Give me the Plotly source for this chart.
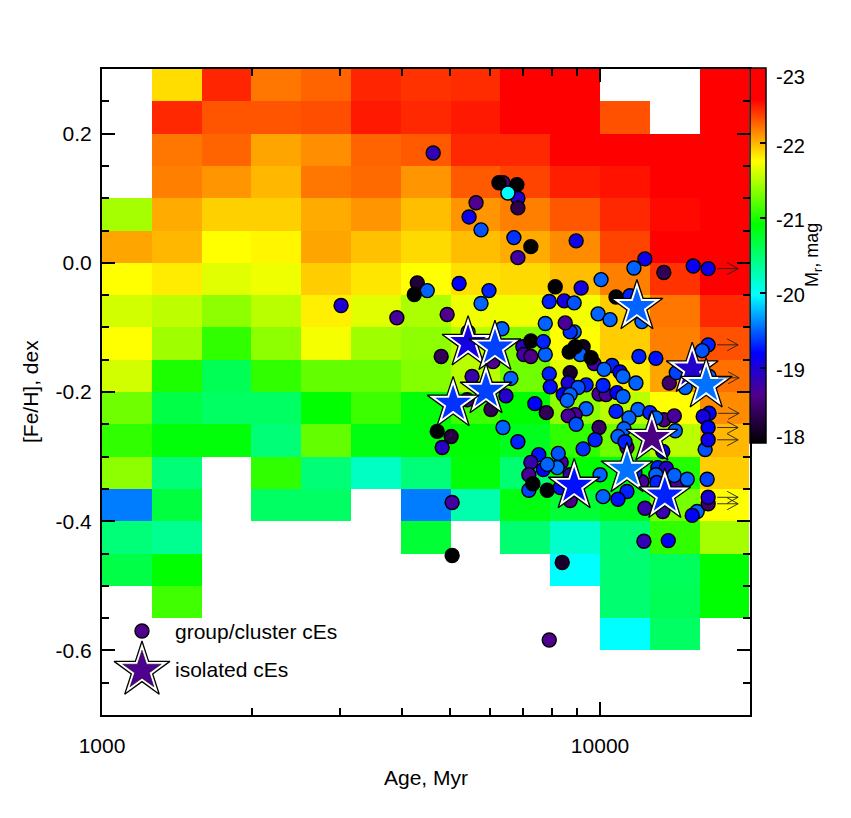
import numpy as np
import plotly.graph_objects as go

N = None
# Model grid: M_r per bin; rows run from [Fe/H]=+0.30 downward, columns from log Age=3.0
mr_grid = [
 [N,-21.87,-22.46,-22.20,-22.26,-22.46,-22.42,-22.44,-22.70,-22.70,N,N,-23.0],
 [N,-22.45,-22.31,-22.31,-22.33,-22.50,-22.45,-22.50,-22.70,-22.70,-22.32,N,-23.0],
 [N,-22.20,-22.26,-22.05,-22.12,-22.26,-22.29,-22.45,-22.45,-22.65,-22.65,-22.70,-23.0],
 [N,-22.17,-22.10,-21.99,-22.20,-22.24,-22.10,-22.29,-22.36,-22.48,-22.52,-22.80,-23.0],
 [-21.46,-22.03,-21.91,-21.91,-22.03,-22.10,-21.97,-22.10,-22.17,-22.30,-22.45,-22.55,-23.0],
 [-22.05,-21.99,-21.76,-21.79,-22.05,-21.96,-21.88,-21.97,-22.03,-22.13,-22.36,-22.60,-23.0],
 [-21.76,-21.82,-21.66,-21.71,-21.92,-21.84,-21.76,-21.86,-21.88,-21.97,-22.17,-22.42,-22.90],
 [-21.61,-21.54,-21.38,-21.53,-21.81,-21.66,-21.48,-21.71,-21.71,-21.72,-21.92,-22.20,-22.45],
 [-21.76,-21.44,-21.07,-21.38,-21.73,-21.44,-21.38,-21.53,-21.34,-21.76,-21.92,-22.17,-22.32],
 [-21.61,-21.00,-20.60,-21.07,-21.24,-21.24,-21.35,-21.53,-21.28,-21.66,-21.82,-22.05,-22.22],
 [-21.28,-20.65,-20.55,-20.55,-20.91,-21.11,-20.88,-21.11,-20.91,-21.38,-21.53,-21.76,-22.13],
 [-21.07,-20.88,-20.88,-20.48,-21.24,-20.85,-20.88,-20.90,-20.80,-21.07,-21.28,-21.53,-21.99],
 [-21.38,-20.48,N,-21.07,-20.48,-20.20,-20.47,-20.88,-20.50,-20.91,-20.85,-21.02,-21.92],
 [-19.58,-20.68,N,-20.55,-20.55,N,-19.58,-20.28,-20.85,-20.72,-20.80,-21.30,-21.76],
 [-20.47,-20.38,N,N,N,N,-20.72,N,-20.50,-20.17,-20.50,-21.07,-21.46],
 [-20.65,-20.91,N,N,N,N,N,N,N,-19.98,-20.50,-20.58,-20.91],
 [N,-21.12,N,N,N,N,N,N,N,N,-20.50,-20.60,-20.90],
 [N,N,N,N,N,N,N,N,N,N,-19.98,-20.55,N],
]
log_age_edges = [3.0+0.1*k for k in range(14)]
feh_edges = [0.30-0.05*k for k in range(19)]

# group/cluster cEs
log_age = [3.665,3.805,3.797,3.833,3.835,3.835,3.815,3.751,3.737,3.761,3.827,3.861,3.835,3.952,3.633,3.653,3.627,3.717,3.777,3.761,
 3.693,3.592,3.480,3.910,3.962,3.898,3.928,3.948,3.996,3.890,3.948,3.940,3.930,3.735,3.803,3.845,3.847,3.861,3.890,
 3.861,3.886,3.681,3.785,3.898,3.900,3.940,3.936,3.972,3.956,3.926,3.940,3.934,3.972,3.950,3.936,3.952,3.998,3.990,3.966,
 3.892,3.869,3.821,3.811,3.781,3.743,3.733,3.701,3.683,3.673,3.805,3.835,3.922,3.877,3.916,3.861,3.886,3.914,3.894,3.857,
 3.857,3.865,3.894,3.920,3.940,3.940,4.000,3.703,3.703,3.924,3.898,3.998,4.012,3.988,3.966,3.960,3.950,3.938,3.982,
 4.024,4.008,4.040,4.046,4.006,4.034,4.046,4.032,4.076,4.058,4.048,4.036,4.054,4.050,4.072,4.078,4.112,4.002,4.090,4.068,
 4.128,4.187,4.217,4.032,4.060,4.020,4.084,4.139,4.153,4.171,4.219,4.217,4.205,4.100,4.128,4.112,4.149,4.151,4.219,4.207,
 4.217,4.211,4.217,4.126,4.116,4.133,4.112,4.155,4.149,4.114,4.175,4.215,4.084,4.070,4.054,4.006,4.036,4.090,4.126,4.195,
 4.185,4.217,4.217,4.088,4.137]
feh = [.170,.124,.124,.121,.100,.085,.108,.093,.071,.051,.039,.025,.008,.034,-.031,-.043,-.049,-.032,-.043,-.063,
 -.080,-.085,-.066,-.037,-.039,-.060,-.059,-.062,-.079,-.094,-.107,-.107,-.093,-.107,-.102,-.130,-.142,-.145,-.142,
 -.121,-.122,-.145,-.153,-.172,-.192,-.170,-.186,-.189,-.193,-.204,-.204,-.213,-.226,-.235,-.237,-.250,-.255,-.274,-.288,
 -.232,-.218,-.179,-.206,-.227,-.176,-.212,-.269,-.286,-.261,-.255,-.277,-.309,-.297,-.295,-.309,-.320,-.317,-.312,-.328,
 -.352,-.342,-.352,-.348,-.328,-.368,-.328,-.371,-.453,-.464,-.584,-.203,-.204,-.156,-.130,-.142,-.130,-.138,-.147,
 -.159,-.165,-.169,-.176,-.190,-.201,-.207,-.230,-.227,-.240,-.257,-.269,-.286,-.277,-.186,-.145,-.148,-.026,.006,-.008,
 -.015,-.005,-.009,-.053,-.051,-.088,-.091,-.186,-.170,-.193,-.176,-.127,-.136,-.232,-.243,-.240,-.237,-.260,-.233,-.238,
 -.255,-.289,-.274,-.292,-.317,-.318,-.328,-.340,-.329,-.340,-.335,-.335,-.339,-.325,-.354,-.362,-.366,-.380,-.385,-.385,
 -.391,-.373,-.363,-.431,-.430]
mr = [-18.85,-18.6,-18.0,-18.0,-18.95,-18.35,-20.0,-18.65,-19.1,-19.45,-19.35,-18.0,-18.75,-19.1,-18.25,-19.5,-18.0,-19.2,-19.3,-19.5,
 -18.65,-18.7,-19.0,-18.0,-19.05,-19.3,-19.05,-19.45,-19.5,-19.5,-19.5,-19.35,-18.7,-19.5,-19.5,-18.9,-18.75,-18.6,-19.5,
 -18.0,-19.3,-18.4,-18.65,-19.3,-19.25,-18.2,-19.0,-19.3,-19.45,-19.2,-19.5,-19.5,-19.5,-18.7,-18.7,-19.45,-18.45,-19.3,-19.35,
 -18.4,-19.2,-19.5,-18.95,-18.4,-18.8,-18.7,-18.3,-18.9,-18.0,-19.5,-19.3,-18.7,-19.25,-19.45,-18.8,-19.2,-19.55,-19.5,-18.7,
 -19.4,-18.0,-18.0,-19.25,-18.8,-18.6,-19.5,-18.75,-18.0,-18.2,-18.65,-18.7,-18.7,-18.75,-18.15,-19.5,-18.0,-18.0,-18.0,
 -19.3,-19.5,-19.2,-19.5,-19.3,-19.2,-19.5,-19.3,-19.5,-19.5,-19.5,-19.5,-18.7,-19.3,-19.5,-19.3,-19.25,-19.5,-19.1,-19.5,
 -18.4,-19.15,-19.1,-18.0,-19.3,-19.5,-19.5,-18.5,-19.4,-19.5,-19.5,-19.3,-19.45,-19.3,-18.6,-19.5,-18.7,-19.5,-19.2,-19.05,
 -19.2,-19.45,-19.1,-19.2,-19.3,-18.95,-19.5,-18.7,-19.5,-19.3,-19.5,-19.4,-18.7,-19.3,-19.3,-19.5,-19.25,-18.8,-18.8,-19.5,
 -19.2,-18.5,-19.0,-18.85,-19.2]

# isolated cEs
iso_log_age = [3.735,3.789,3.771,3.705,3.948,4.054,4.074,4.104,4.130,4.185,4.213]
iso_feh = [-.124,-.131,-.198,-.218,-.345,-.320,-.068,-.271,-.360,-.165,-.189]
iso_mr = [-19.05,-19.4,-19.4,-19.35,-19.25,-19.55,-19.5,-18.6,-19.3,-18.95,-19.55]

# lower limits on age
lim_log_age = [4.217,4.217,4.219,4.219,4.217,4.217,4.217,4.217]
lim_feh = [-.009,-.127,-.178,-.233,-.255,-.274,-.363,-.373]

# colour bar labels and the heights (in page pixels) they sit at
cb_labels = ["-23","-22","-21","-20","-19","-18"]
cb_label_px = [77,146,220,295,370,437]

age = 10**np.array(log_age)
iso_age = 10**np.array(iso_log_age)
age_edges = 10**np.array(log_age_edges)
z = [[None if v is None else -v for v in row] for row in mr_grid]

FONT = "Liberation Sans"
cscale = [[0,"rgb(0,0,0)"],[.128,"rgb(80,0,140)"],[.24,"rgb(0,0,255)"],[.396,"rgb(0,255,255)"],
          [.582,"rgb(0,255,0)"],[.752,"rgb(255,255,0)"],[.916,"rgb(255,0,0)"],[1,"rgb(255,0,0)"]]

fig = go.Figure()
fig.add_trace(go.Heatmap(x=age_edges, y=feh_edges, z=z, coloraxis="coloraxis", hoverongaps=False, zsmooth=False))
fig.add_trace(go.Scatter(x=age, y=feh, mode="markers", showlegend=False,
    marker=dict(symbol="circle", size=14, color=[-v for v in mr], coloraxis="coloraxis",
                line=dict(color="black", width=1.4))))

def stars(x, y, m, big=39, small=27, inner_line=0):
    fig.add_trace(go.Scatter(x=x, y=y, mode="markers", showlegend=False,
        marker=dict(symbol="star", size=big, color="white", line=dict(color="black", width=1.3))))
    fig.add_trace(go.Scatter(x=x, y=y, mode="markers", showlegend=False,
        marker=dict(symbol="star", size=small, color=[-v for v in m], coloraxis="coloraxis",
                    line=dict(color="black", width=inner_line))))

for i in range(len(iso_age)):
    stars([iso_age[i]], [iso_feh[i]], [iso_mr[i]])

# legend marks
leg_age = [1203]
fig.add_trace(go.Scatter(x=leg_age, y=[-.570], mode="markers", showlegend=False,
    marker=dict(symbol="circle", size=14, color=[18.65], coloraxis="coloraxis", line=dict(color="black", width=1.4))))
stars(leg_age, [-.631], [-18.65], big=42, small=29, inner_line=0.5)

shapes = [dict(type="path", xref="x", yref="y", xsizemode="pixel", ysizemode="pixel",
               xanchor=10**a, yanchor=f, layer="above",
               path="M 9 0 L 30 0 M 19 -6 L 30 0 L 19 6",
               line=dict(color="#222222", width=0.9))
          for a, f in zip(lim_log_age, lim_feh)]

axis_common = dict(showline=True, linecolor="black", linewidth=2, mirror="ticks", showgrid=False, zeroline=False,
                   ticks="inside", ticklen=13, tickwidth=2, tickcolor="black",
                   tickfont=dict(family=FONT, size=21, color="black"))
annotations = [
    dict(x=np.log10(1401), y=-.570, xref="x", yref="y", text="group/cluster cEs", showarrow=False, xanchor="left", yanchor="middle",
         xshift=-2, font=dict(family=FONT, size=21, color="black")),
    dict(x=np.log10(1401), y=-.630, xref="x", yref="y", text="isolated cEs", showarrow=False, xanchor="left", yanchor="middle",
         xshift=-2, font=dict(family=FONT, size=21, color="black")),
    dict(x=(813-102)/648, y=(715-255)/646, xref="paper", yref="paper", text="M<sub>r</sub>, mag", textangle=-90, showarrow=False,
         xanchor="center", yanchor="middle", font=dict(family=FONT, size=18, color="black")),
    dict(x=(426-102)/648, y=(715-777)/646, xref="paper", yref="paper", text="Age, Myr", showarrow=False,
         xanchor="center", yanchor="middle", font=dict(family=FONT, size=21, color="black")),
    dict(x=(30-102)/648, y=(715-392)/646, xref="paper", yref="paper", text="[Fe/H], dex", textangle=-90, showarrow=False,
         xanchor="center", yanchor="middle", font=dict(family=FONT, size=21, color="black")),
]
annotations += [dict(x=(774-102)/648, y=(715-p)/646, xref="paper", yref="paper", text=t, showarrow=False,
                     xanchor="left", yanchor="middle", font=dict(family=FONT, size=20, color="black"))
                for t, p in zip(cb_labels, cb_label_px)]

fig.update_layout(
    width=843, height=810, autosize=False, showlegend=False,
    margin=dict(l=94, r=101, t=61, b=103, autoexpand=False),
    paper_bgcolor="white", plot_bgcolor="white",
    font=dict(family=FONT, size=21, color="black"),
    shapes=shapes,
    coloraxis=dict(cmin=18, cmax=23, colorscale=cscale,
        colorbar=dict(x=1.0, xanchor="left", y=1+(1/646), yanchor="top",
            thickness=16, thicknessmode="pixels", len=375, lenmode="pixels", xpad=0, ypad=0,
            outlinecolor="black", outlinewidth=1.5, borderwidth=0,
            tickvals=[18,19,20,21,22,23], showticklabels=False,
            ticks="inside", ticklen=6, tickwidth=1.5, tickcolor="black")),
    xaxis=dict(type="log", range=[3, np.log10(20000)], tickvals=[1000,10000], ticktext=["1000","10000"],
        ticklabelstandoff=11,
        minor=dict(tickvals=[2000,3000,4000,5000,6000,7000,8000,9000], ticks="inside", ticklen=7, tickwidth=1.5, tickcolor="black"),
        **axis_common),
    yaxis=dict(range=[-0.7, 0.3], tickvals=[-0.6,-0.4,-0.2,0,0.2], ticktext=["-0.6","-0.4","-0.2","0.0","0.2"],
        ticklabelstandoff=4,
        minor=dict(tickvals=[-.65,-.55,-.5,-.45,-.35,-.3,-.25,-.15,-.1,-.05,.05,.1,.15,.25], ticks="inside", ticklen=7, tickwidth=1.5, tickcolor="black"),
        **axis_common),
    annotations=annotations,
)
fig.write_html("out.html")
